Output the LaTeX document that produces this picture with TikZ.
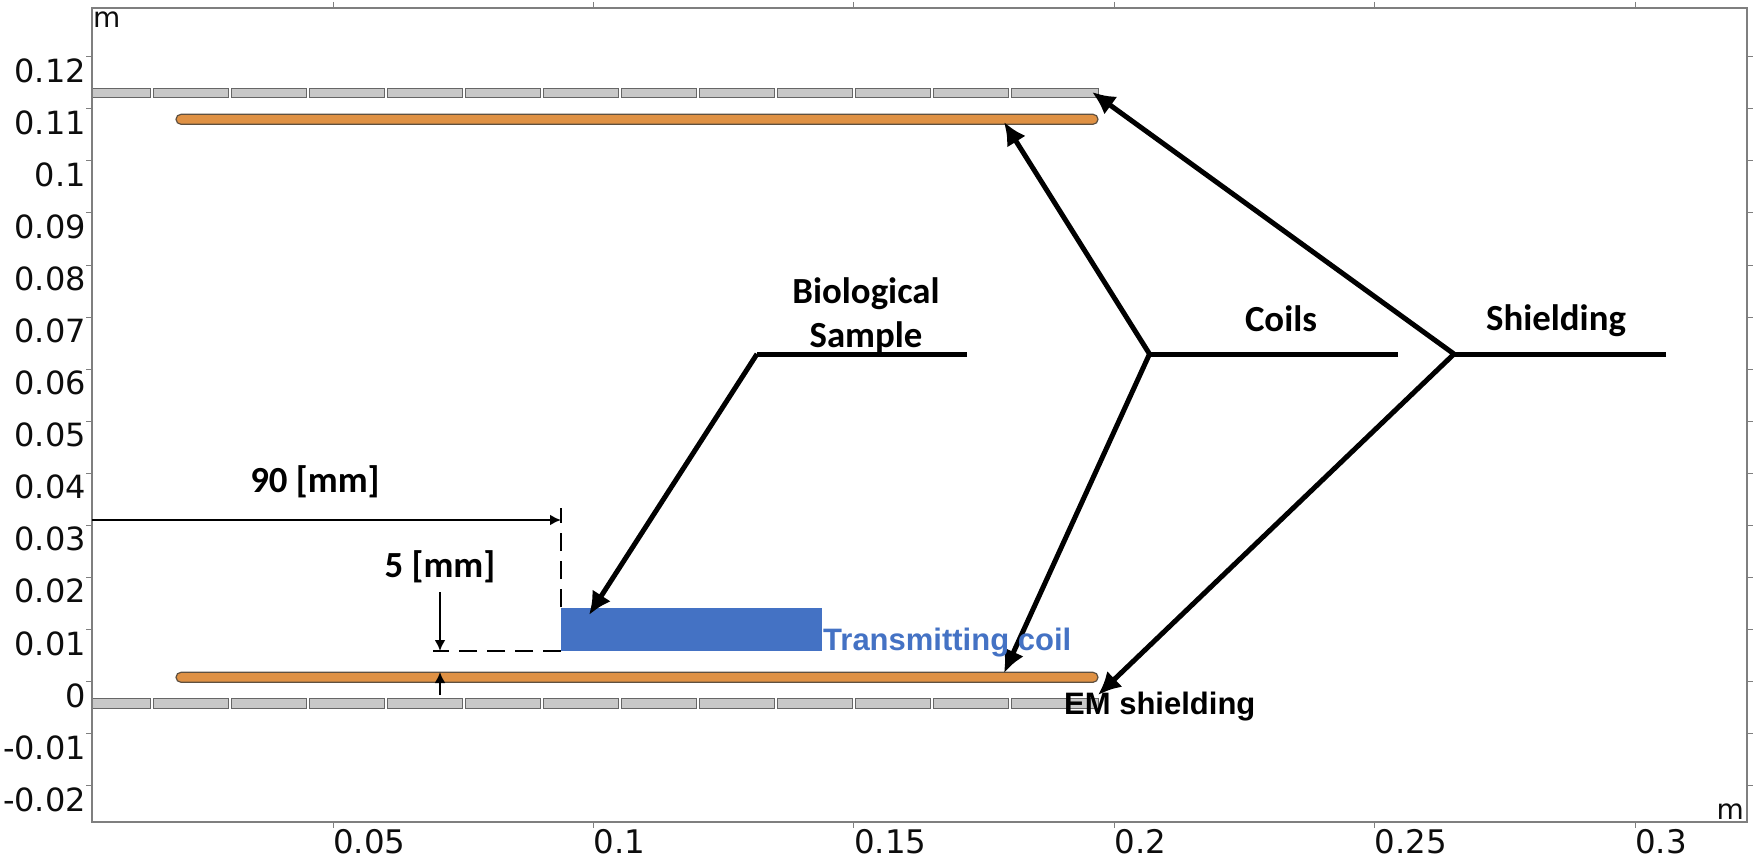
\documentclass[tikz,border=0pt]{standalone}
\usepackage{fontspec}
\setmainfont{DejaVu Sans}
\newfontfamily\callout{Carlito}[BoldFont={Carlito Bold}]
\newfontfamily\arialf{Liberation Sans}
\usetikzlibrary{arrows.meta}
\definecolor{shieldfill}{HTML}{C8C8C8}
\definecolor{shieldedge}{HTML}{666666}
\definecolor{coilfill}{HTML}{DF9144}
\definecolor{coiledge}{HTML}{5E5040}
\definecolor{samplefill}{HTML}{4472C4}
\definecolor{framecol}{HTML}{7F7F7F}
\tikzset{
  x=1pt,y=-1pt,
  framebox/.style={draw=framecol,line width=1.6pt},
  tickline/.style={draw=framecol,line width=1pt},
  ylab/.style={anchor=east,inner sep=0pt,font=\fontsize{32}{33}\selectfont,text=black!95},
  xlab/.style={anchor=base west,inner sep=0pt,font=\fontsize{32.5}{33}\selectfont,text=black!95},
  unitlab/.style={inner sep=0pt,font=\fontsize{28}{28}\selectfont,text=black!95},
  shieldseg/.style={draw=shieldedge,fill=shieldfill,line width=1pt},
  coilbar/.style={draw=coiledge,fill=coilfill,line width=1.2pt,rounded corners=5pt},
  callout/.style={inner sep=0pt,align=center,font=\fontsize{36.8}{44}\selectfont\callout\bfseries},
  fork/.style={line width=5pt,black},
  forkarrow/.style={line width=5pt,black,-{Latex[length=23pt,width=22pt]}},
  dimline/.style={line width=2.4pt,black},
  dimarrow/.style={line width=2.4pt,black,-{Latex[length=11pt,width=11pt]}},
  dimdash/.style={line width=2.4pt,black,dash pattern=on 18pt off 10pt},
}
\begin{document}
\begin{tikzpicture}
\useasboundingbox (0,0) rectangle (1755,858);
% shielding segments
\foreach \yy in {88.5,698.5}{
  \draw[shieldseg] (92,\yy) rectangle (150.3,\yy+9.5);
  \foreach \k in {0,...,10}{
    \draw[shieldseg] (153.8+78*\k,\yy) rectangle (228.5+78*\k,\yy+9.5);
  }
  \draw[shieldseg] (1011.8,\yy) rectangle (1098.5,\yy+9.5);
}
% coils
\draw[coilbar] (176,114.3) rectangle (1098,124.3);
\draw[coilbar] (176,672.3) rectangle (1098,682.3);
% sample
\fill[samplefill] (561,607.5) rectangle (821.5,651);
% frame and ticks
\draw[framebox] (92,8) rectangle (1747,822);
\foreach \tx in {333,593.4,853.8,1114.2,1374.6,1635}{
  \draw[tickline] (\tx,2) -- (\tx,8);
  \draw[tickline] (\tx,822) -- (\tx,828);
}
\foreach \ty in {-12,...,2}{
  \draw[tickline] (86,681.7+\ty*52.08) -- (92,681.7+\ty*52.08);
  \draw[tickline] (1747,681.7+\ty*52.08) -- (1753,681.7+\ty*52.08);
}
% y labels
\foreach \nm/\lab/\v in {a/0.12/12,b/0.11/11,c/0.1/10,d/0.09/9,e/0.08/8,f/0.07/7,g/0.06/6,h/0.05/5,i/0.04/4,j/0.03/3,k/0.02/2,l/0.01/1,n/0/0,o/-0.01/-1,p/-0.02/-2}{
  \node[ylab] (y\nm) at (86,695.5-\v*52.08) {\lab};
}
% x labels
\foreach \nm/\lab/\tx in {a/0.05/333,b/0.1/593.4,c/0.15/853.8,d/0.2/1114.2,e/0.25/1374.6,f/0.3/1635}{
  \node[xlab] (x\nm) at (\tx,853) {\lab};
}
\node[unitlab,anchor=base west] (unitY) at (93,28) {m};
\node[unitlab,anchor=base east] (unitX) at (1744,819) {m};
% dimension: 90 mm
\coordinate (dimLeft) at (92,520);
\coordinate (dimRight) at (561,520);
\coordinate (dimTop) at (561,508);
\coordinate (dimTickEnd) at (561,523);
\coordinate (dashTop) at (561,533);
\coordinate (sampleTL) at (561,607);
\coordinate (sampleBL) at (561,651);
\coordinate (dashEnd) at (433,651);
\draw[dimarrow] (dimLeft) -- (dimRight);
\draw[dimline] (dimTop) -- (dimTickEnd);
\draw[dimdash] (sampleTL) -- (dashTop);
\draw[dimdash] (sampleBL) -- (dashEnd);
\node[callout] (lab90) at (315,482) {90 [mm]};
% dimension: 5 mm
\coordinate (fiveTop) at (440,592);
\coordinate (fiveMid) at (440,651);
\coordinate (fiveBot) at (440,695);
\coordinate (fiveCoil) at (440,672);
\draw[dimarrow] (fiveTop) -- (fiveMid);
\draw[dimarrow] (fiveBot) -- (fiveCoil);
\node[callout] (lab5) at (440,566.5) {5 [mm]};
% callouts
\coordinate (bioEnd) at (967,354);
\coordinate (bioKnee) at (757,354);
\coordinate (bioTip) at (589,615);
\draw[fork] (bioEnd) -- (bioKnee);
\draw[forkarrow] (bioKnee) -- (bioTip);
\node[callout] (labBio) at (866,315.5) {Biological\\Sample};
\coordinate (coilEnd) at (1398,354);
\coordinate (coilKnee) at (1149.5,354);
\coordinate (coilTipA) at (1004,122);
\coordinate (coilTipB) at (1004,673);
\draw[fork] (coilEnd) -- (coilKnee);
\draw[forkarrow] (coilKnee) -- (coilTipA);
\draw[forkarrow] (coilKnee) -- (coilTipB);
\node[callout] (labCoils) at (1281,318.5) {Coils};
\coordinate (shEnd) at (1666,354);
\coordinate (shKnee) at (1454,354);
\coordinate (shTipA) at (1092,92);
\coordinate (shTipB) at (1098,695);
\draw[fork] (shEnd) -- (shKnee);
\draw[forkarrow] (shKnee) -- (shTipA);
\draw[forkarrow] (shKnee) -- (shTipB);
\node[callout] (labShield) at (1556,320.5) {Shielding};
% plain labels
\node[inner sep=0pt,anchor=base west,text=samplefill,font=\fontsize{31}{31}\selectfont\arialf\bfseries] (labTx) at (823,650) {Transmitting coil};
\node[inner sep=0pt,anchor=base west,font=\fontsize{31}{31}\selectfont\arialf\bfseries] (labEM) at (1064,714) {EM shielding};
\end{tikzpicture}
\end{document}
